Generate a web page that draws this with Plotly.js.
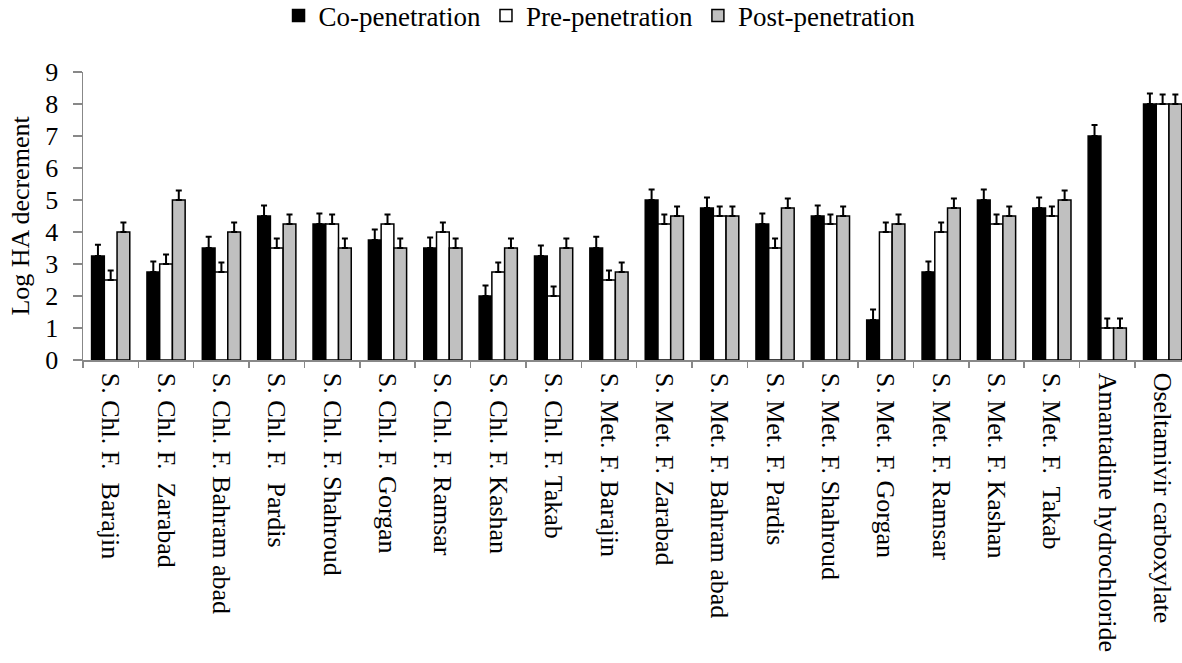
<!DOCTYPE html>
<html>
<head>
<meta charset="utf-8">
<script src="https://cdn.plot.ly/plotly-3.0.1.min.js"></script>
<style>html,body{margin:0;padding:0;background:#fff;}#chart{width:1182px;height:663px;}</style>
</head>
<body>
<div id="chart"></div>
<script>
const categories = [
  "S. Chl. F.\u00a0 Barajin", "S. Chl. F.\u00a0 Zarabad", "S. Chl. F. Bahram abad", "S. Chl. F.\u00a0 Pardis",
  "S. Chl. F. Shahroud", "S. Chl. F. Gorgan", "S. Chl. F. Ramsar", "S. Chl. F. Kashan",
  "S. Chl. F. Takab", "S. Met. F. Barajin", "S. Met. F. Zarabad", "S. Met. F. Bahram abad",
  "S. Met. F. Pardis", "S. Met. F. Shahroud", "S. Met. F. Gorgan", "S. Met. F. Ramsar",
  "S. Met. F. Kashan", "S. Met. F.\u00a0 Takab", "Amantadine hydrochloride", "Oseltamivir carboxylate"
];
const coValues   = [3.25, 2.75, 3.5, 4.5, 4.25, 3.75, 3.5, 2.0, 3.25, 3.5, 5.0, 4.75, 4.25, 4.5, 1.25, 2.75, 5.0, 4.75, 7.0, 8.0];
const preValues  = [2.5, 3.0, 2.75, 3.5, 4.25, 4.25, 4.0, 2.75, 2.0, 2.5, 4.25, 4.5, 3.5, 4.25, 4.0, 4.0, 4.25, 4.5, 1.0, 8.0];
const postValues = [4.0, 5.0, 4.0, 4.25, 3.5, 3.5, 3.5, 3.5, 3.5, 2.75, 4.5, 4.5, 4.75, 4.5, 4.25, 4.75, 4.5, 5.0, 1.0, 8.0];
const coErrors   = [0.35, 0.33, 0.35, 0.33, 0.33, 0.33, 0.33, 0.33, 0.33, 0.35, 0.33, 0.33, 0.33, 0.33, 0.33, 0.33, 0.33, 0.33, 0.34, 0.33];
const preErrors  = [0.3, 0.3, 0.3, 0.3, 0.3, 0.3, 0.3, 0.3, 0.3, 0.3, 0.3, 0.3, 0.3, 0.3, 0.3, 0.3, 0.3, 0.3, 0.3, 0.3];
const postErrors = [0.3, 0.3, 0.3, 0.3, 0.3, 0.3, 0.3, 0.3, 0.3, 0.3, 0.3, 0.3, 0.3, 0.3, 0.3, 0.3, 0.3, 0.3, 0.3, 0.3];
const seriesNames = ["Co-penetration", "Pre-penetration", "Post-penetration"];

const FONT = "Liberation Serif";
function mk(name, vals, errs, fill) {
  return {
    type: "bar", name: name, x: categories, y: vals,
    marker: {color: fill, line: {color: "#000", width: 1.5}},
    error_y: {type: "data", array: errs, visible: true, color: "#000", thickness: 2, width: 3, symmetric: false, arrayminus: errs.map(() => 0)}
  };
}
const data = [
  mk(seriesNames[0], coValues, coErrors, "#000000"),
  mk(seriesNames[1], preValues, preErrors, "#ffffff"),
  mk(seriesNames[2], postValues, postErrors, "#c0c0c0")
];
const layout = {
  width: 1182, height: 663,
  margin: {l: 83, r: 0, t: 72, b: 303, autoexpand: false},
  paper_bgcolor: "#fff", plot_bgcolor: "#fff",
  font: {family: FONT, color: "#000", size: 26},
  barmode: "group", bargap: 0.31, bargroupgap: 0,
  showlegend: true,
  legend: {orientation: "h", x: 0.47, xref: "paper", xanchor: "center", y: 1.28, yref: "paper", yanchor: "top",
           font: {family: FONT, size: 27, color: "#000"}, itemwidth: 30, traceorder: "normal"},
  xaxis: {
    type: "category", range: [-0.5, 19.35],
    showline: true, linecolor: "#888", linewidth: 1.5,
    ticks: "outside", tickcolor: "#888", ticklen: 6, tickwidth: 1.5, tickson: "boundaries",
    tickangle: 90, tickfont: {family: FONT, size: 26, color: "#000"}, ticklabelstandoff: 6,
    showgrid: false, zeroline: false, automargin: false
  },
  yaxis: {
    range: [0, 9], dtick: 1, tick0: 0,
    showline: true, linecolor: "#888", linewidth: 1.5,
    ticks: "outside", tickcolor: "#888", ticklen: 9, tickwidth: 1.5,
    tickfont: {family: FONT, size: 26, color: "#000"}, ticklabelstandoff: 9,
    showgrid: false, zeroline: false, automargin: false,
    title: {text: "Log HA decrement", font: {family: FONT, size: 26, color: "#000"}, standoff: 8}
  }
};
Plotly.newPlot("chart", data, layout, {staticPlot: true, displayModeBar: false});
</script>
</body>
</html>
